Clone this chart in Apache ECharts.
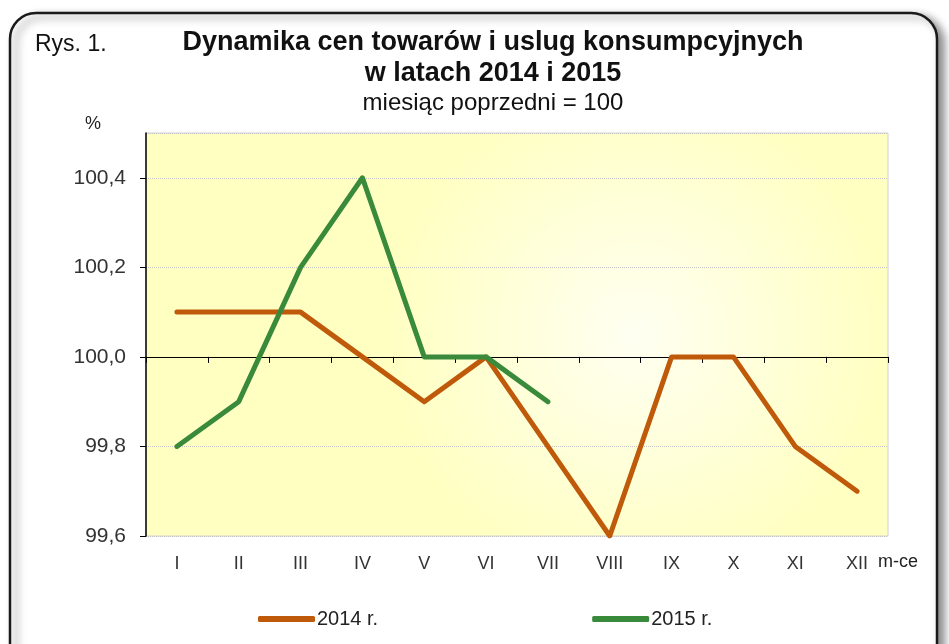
<!DOCTYPE html>
<html>
<head>
    <meta charset="utf-8" />
    <title>Dynamika cen</title>
    <script src="https://cdn.jsdelivr.net/npm/echarts@6/dist/echarts.min.js"></script>
    <style>
        html, body { margin: 0; padding: 0; background: #fff; }
        #divChart { width: 949px; height: 644px; }
    </style>
</head>
<body>
    <div id="divChart"></div>
    <script>
        // miesiące
        let months = ['I', 'II', 'III', 'IV', 'V', 'VI', 'VII', 'VIII', 'IX', 'X', 'XI', 'XII'];
        // miesiąc poprzedni = 100
        let data2014 = [100.1, 100.1, 100.1, 100.0, 99.9, 100.0, 99.8, 99.6, 100.0, 100.0, 99.8, 99.7];
        let data2015 = [99.8, 99.9, 100.2, 100.4, 100.0, 100.0, 99.9];
        let yTicks = [99.6, 99.8, 100.0, 100.2, 100.4];

        let font = "'Liberation Sans', Arial, sans-serif";
        let yMin = 99.6, yMax = 100.5, baseLine = 100.0;
        let gridTop = 133, gridBottom = 108;
        let gridH = 644 - gridTop - gridBottom;
        // oś X z kreskami przechodzi przez 100,0
        let axisOffset = -gridH * (baseLine - yMin) / (yMax - yMin);

        function fmt(v) {
            return v.toFixed(1).replace('.', ',');
        }

        let option = {
            backgroundColor: '#fff',
            animation: false,
            textStyle: { fontFamily: font },
            graphic: [
                {
                    type: 'rect',
                    z: -10,
                    shape: { x: 10, y: 13, width: 927, height: 660, r: 26 },
                    style: {
                        fill: '#fff',
                        stroke: '#1a1a1a',
                        lineWidth: 2.5,
                        shadowBlur: 8,
                        shadowOffsetX: 6,
                        shadowOffsetY: 4,
                        shadowColor: 'rgba(0,0,0,0.45)'
                    }
                },
                {
                    type: 'text', left: 35, top: 33,
                    style: { text: 'Rys. 1.', font: '23px ' + font, fill: '#111' }
                },
                {
                    type: 'text', left: 85, top: 115,
                    style: { text: '%', font: '18px ' + font, fill: '#222' }
                },
                {
                    type: 'text', left: 878, top: 553,
                    style: { text: 'm-ce', font: '18px ' + font, fill: '#222' }
                }
            ],
            title: [
                {
                    text: 'Dynamika cen towarów i uslug konsumpcyjnych\nw latach 2014 i 2015',
                    left: 488, top: 22, textAlign: 'center',
                    textStyle: { fontFamily: font, fontSize: 27, fontWeight: 'bold', color: '#111', lineHeight: 31 }
                },
                {
                    text: 'miesiąc poprzedni = 100',
                    left: 488, top: 86, textAlign: 'center',
                    textStyle: { fontFamily: font, fontSize: 24, fontWeight: 'normal', color: '#111' }
                }
            ],
            legend: {
                left: 253,
                top: 604,
                itemWidth: 57,
                itemHeight: 6,
                itemGap: 214,
                icon: 'roundRect',
                textStyle: { fontFamily: font, fontSize: 20, color: '#222', padding: [0, 0, 0, -3] },
                data: ['2014 r.', '2015 r.']
            },
            grid: {
                left: 146,
                right: 61,
                top: gridTop,
                bottom: gridBottom,
                show: true,
                borderColor: '#d2d2d2',
                borderWidth: 1,
                backgroundColor: {
                    type: 'radial',
                    x: 0.66, y: 0.5, r: 0.62,
                    colorStops: [
                        { offset: 0, color: '#fffff2' },
                        { offset: 1, color: '#ffffc2' }
                    ]
                }
            },
            xAxis: [
                {
                    type: 'category',
                    data: months,
                    axisLine: { show: false },
                    axisTick: { show: false },
                    axisLabel: { margin: 19, fontFamily: font, fontSize: 18, color: '#333' }
                },
                {
                    type: 'category',
                    data: months,
                    position: 'bottom',
                    offset: axisOffset,
                    axisLine: { onZero: false, lineStyle: { color: '#000', width: 1 } },
                    axisTick: { show: true, length: 6, lineStyle: { color: '#000' } },
                    axisLabel: { show: false }
                }
            ],
            yAxis: {
                type: 'value',
                min: yMin,
                max: yMax,
                interval: 0.2,
                axisLine: { show: true, lineStyle: { color: '#000', width: 1.5 } },
                axisTick: { show: true, length: 6, lineStyle: { color: '#000' } },
                axisLabel: {
                    margin: 20,
                    fontFamily: font,
                    fontSize: 21,
                    color: '#333',
                    showMaxLabel: false,
                    formatter: function (v) {
                        return yTicks.some(t => Math.abs(t - v) < 1e-6) ? fmt(v) : '';
                    }
                },
                splitLine: { lineStyle: { color: '#c4c4c4', type: 'dotted', width: 1 } }
            },
            series: [
                {
                    name: '2014 r.',
                    type: 'line',
                    data: data2014,
                    symbol: 'none',
                    color: '#c05a0b',
                    lineStyle: { width: 5, cap: 'round', join: 'round', color: '#c05a0b' },
                    z: 3
                },
                {
                    name: '2015 r.',
                    type: 'line',
                    data: data2015,
                    symbol: 'none',
                    color: '#3a8a3c',
                    lineStyle: { width: 5, cap: 'round', join: 'round', color: '#3a8a3c' },
                    z: 4
                }
            ]
        };

        echarts.init(document.getElementById('divChart')).setOption(option);
    </script>
</body>
</html>
